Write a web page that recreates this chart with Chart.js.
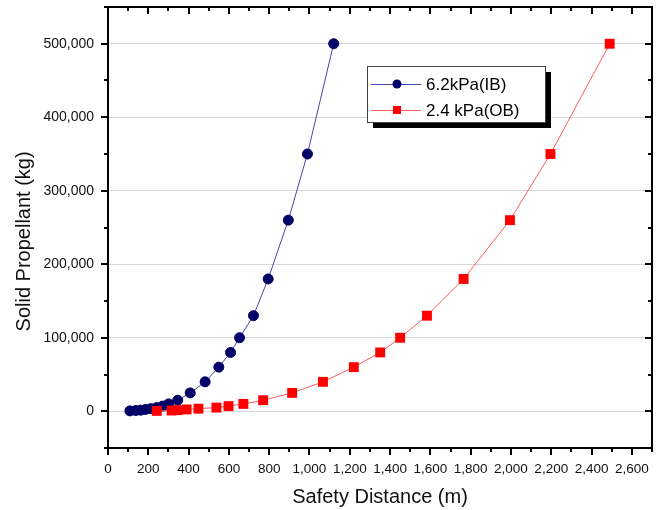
<!DOCTYPE html>
<html>
<head>
<meta charset="utf-8">
<script src="https://cdn.jsdelivr.net/npm/chart.js@4.4.1/dist/chart.umd.min.js"></script>
<style>
  html, body { margin: 0; padding: 0; background: #fff; }
</style>
</head>
<body>
<canvas id="myChart" width="660" height="510"></canvas>
<script>
'use strict';

// safety distance (m) vs propellant mass (kg)
var ibDistance = [109, 138, 162, 186, 212, 242, 272, 301, 346, 408, 482, 550, 608, 653, 722, 795, 895, 990, 1120];
var ibMass = [500, 1000, 1500, 2500, 3500, 5000, 7000, 10000, 15000, 25000, 40000, 60000, 80000, 100000, 130000, 180000, 260000, 350000, 500000];
var obDistance = [242, 316, 346, 390, 449, 538, 598, 672, 770, 914, 1067, 1220, 1351, 1450, 1583, 1765, 1995, 2196, 2490];
var obMass = [500, 1000, 1500, 2500, 3500, 5000, 7000, 10000, 15000, 25000, 40000, 60000, 80000, 100000, 130000, 180000, 260000, 350000, 500000];

var seriesNames = ['6.2kPa(IB)', '2.4 kPa(OB)'];
var xTickValues = [0, 200, 400, 600, 800, 1000, 1200, 1400, 1600, 1800, 2000, 2200, 2400, 2600];
var yTickValues = [0, 100000, 200000, 300000, 400000, 500000];

var FONT = "Arial, 'Liberation Sans', sans-serif";

function toPoints(xs, ys) {
  return xs.map(function(x, i) { return { x: x, y: ys[i] }; });
}

function fmt(v) {
  return Number(v).toLocaleString('en-US');
}

// box, tick marks on all four sides (Origin style)
var frame = {
  id: 'frame',
  afterDatasetsDraw: function(chart) {
    var ctx = chart.ctx, a = chart.chartArea;
    var xs = chart.scales.x, ys = chart.scales.y;
    ctx.save();
    ctx.strokeStyle = '#000';
    ctx.lineWidth = 2;
    ctx.beginPath();
    for (var v = 0; v <= 2700; v += 100) {
      var px = Math.round(xs.getPixelForValue(v));
      var len = v % 200 === 0 ? 7 : 4;
      ctx.moveTo(px, a.bottom); ctx.lineTo(px, a.bottom + len);
      ctx.moveTo(px, a.top); ctx.lineTo(px, a.top + len);
    }
    for (var w = -50000; w <= 550000; w += 50000) {
      var py = Math.round(ys.getPixelForValue(w));
      var l = w % 100000 === 0 ? 7 : 4;
      ctx.moveTo(a.left, py); ctx.lineTo(a.left - l, py);
      ctx.moveTo(a.right, py); ctx.lineTo(a.right - l, py);
    }
    ctx.stroke();
    ctx.strokeRect(a.left, a.top, a.right - a.left, a.bottom - a.top);
    ctx.restore();
  }
};

// boxed legend with drop shadow
var boxLegend = {
  id: 'boxLegend',
  afterDraw: function(chart) {
    var ctx = chart.ctx;
    var bx = 367, by = 66, bw = 178, bh = 56;
    ctx.save();
    ctx.fillStyle = '#000';
    ctx.fillRect(bx + 6, by + 6, bw, bh);
    ctx.fillStyle = '#fff';
    ctx.fillRect(bx, by, bw, bh);
    ctx.strokeStyle = '#444';
    ctx.lineWidth = 1;
    ctx.strokeRect(bx + 0.5, by + 0.5, bw, bh);

    var rows = [84, 110];
    chart.data.datasets.forEach(function(ds, i) {
      var y = rows[i];
      ctx.strokeStyle = ds.borderColor;
      ctx.lineWidth = 1;
      ctx.beginPath();
      ctx.moveTo(371, y + 0.5); ctx.lineTo(421, y + 0.5);
      ctx.stroke();
      ctx.fillStyle = ds.pointBackgroundColor;
      if (ds.pointStyle === 'rect') {
        ctx.fillRect(393, y - 4, 8, 8);
      } else {
        ctx.beginPath();
        ctx.arc(397, y, 4.5, 0, Math.PI * 2);
        ctx.fill();
      }
      ctx.fillStyle = '#000';
      ctx.font = '17px ' + FONT;
      ctx.textBaseline = 'middle';
      ctx.fillText(ds.label, 426, y + 1);
    });
    ctx.restore();
  }
};

var ctx = document.getElementById('myChart').getContext('2d');

var chart = new Chart(ctx, {
  type: 'line',
  data: {
    datasets: [{
      label: seriesNames[0],
      data: toPoints(ibDistance, ibMass),
      borderColor: '#4646a6',
      borderWidth: 1,
      pointStyle: 'circle',
      pointRadius: 5,
      pointBorderWidth: 1,
      pointBackgroundColor: '#000066',
      pointBorderColor: '#000066',
      order: 1
    },
    {
      label: seriesNames[1],
      data: toPoints(obDistance, obMass),
      borderColor: '#ff5a5a',
      borderWidth: 1,
      pointStyle: 'rect',
      pointRadius: 7,
      pointBorderWidth: 0,
      pointBackgroundColor: '#ff0000',
      pointBorderColor: '#ff0000',
      order: 0
    }]
  },
  options: {
    responsive: false,
    devicePixelRatio: 1,
    animation: false,
    layout: { padding: { top: 7, right: 8, left: 0, bottom: 0 } },
    plugins: {
      legend: { display: false },
      tooltip: { enabled: false }
    },
    scales: {
      x: {
        type: 'linear',
        min: 0,
        max: 2700,
        afterBuildTicks: function(scale) {
          scale.ticks = xTickValues.map(function(v) { return { value: v }; });
        },
        afterFit: function(scale) {
          scale.height = 62;
          scale.paddingLeft = 0;
          scale.paddingRight = 0;
        },
        grid: { display: false, drawTicks: false },
        border: { display: false },
        ticks: {
          padding: 13,
          maxRotation: 0,
          autoSkip: false,
          color: '#111',
          font: { family: FONT, size: 13.5 },
          callback: fmt
        },
        title: {
          display: true,
          text: 'Safety Distance (m)',
          color: '#111',
          font: { family: FONT, size: 20 },
          padding: { top: 0, bottom: 1 }
        }
      },
      y: {
        type: 'linear',
        min: -50000,
        max: 550000,
        afterBuildTicks: function(scale) {
          scale.ticks = yTickValues.map(function(v) { return { value: v }; });
        },
        afterFit: function(scale) {
          scale.width = 108;
          scale.paddingTop = 0;
          scale.paddingBottom = 0;
        },
        grid: { color: '#d6d6d6', lineWidth: 1, drawTicks: false },
        border: { display: false },
        ticks: {
          padding: 14,
          color: '#111',
          font: { family: FONT, size: 14 },
          callback: fmt
        },
        title: {
          display: true,
          text: 'Solid Propellant (kg)     ',
          color: '#111',
          font: { family: FONT, size: 20 },
          padding: { top: 12, bottom: 0 }
        }
      }
    }
  },
  plugins: [frame, boxLegend]
});
</script>
</body>
</html>
